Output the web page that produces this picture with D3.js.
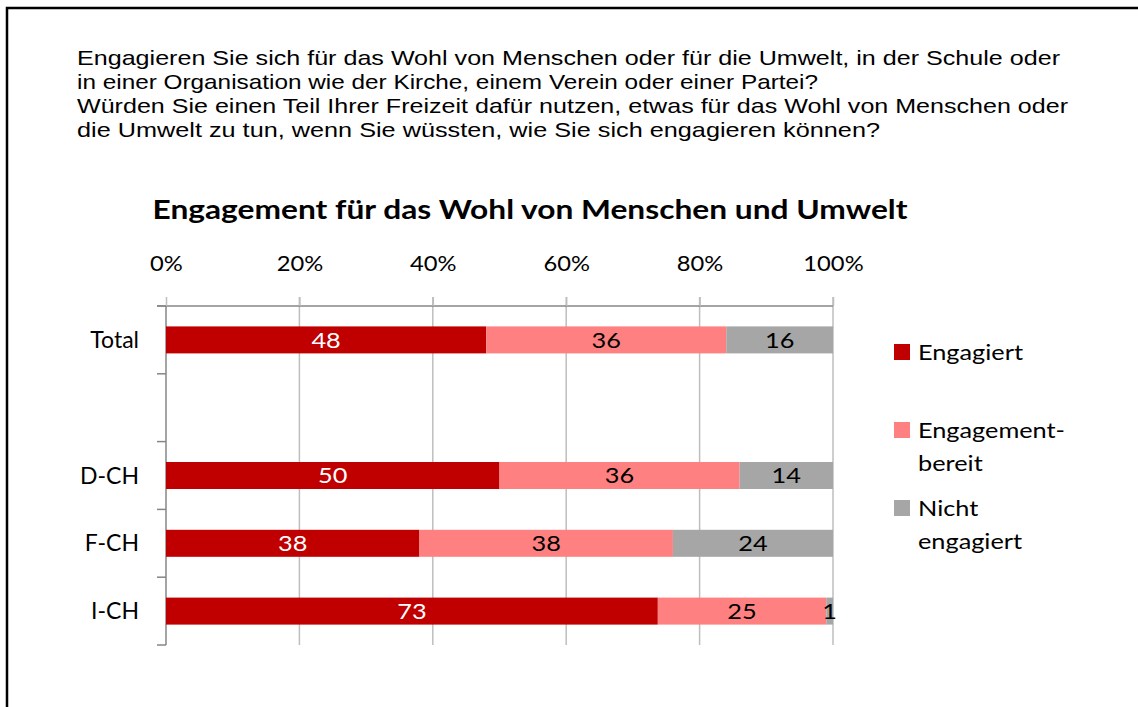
<!DOCTYPE html>
<html>
<head>
<meta charset="utf-8">
<script src="https://cdn.jsdelivr.net/npm/d3@7"></script>
<style>
  body { margin: 0; background: #fff; }
  svg { display: block; }
  .q { font-family: "Liberation Sans", Arial, sans-serif; font-size: 21px; fill: #000; }
  .c { font-family: Lato, "Open Sans", sans-serif; }
</style>
</head>
<body>
<svg id="chart" width="1138" height="707"></svg>
<script>
// question text above the chart
var questionLines = [
  "Engagieren Sie sich für das Wohl von Menschen oder für die Umwelt, in der Schule oder",
  "in einer Organisation wie der Kirche, einem Verein oder einer Partei?",
  "Würden Sie einen Teil Ihrer Freizeit dafür nutzen, etwas für das Wohl von Menschen oder",
  "die Umwelt zu tun, wenn Sie wüssten, wie Sie sich engagieren können?"
];
var questionWidths = [983, 741, 991, 803];
var chartTitle = "Engagement für das Wohl von Menschen und Umwelt";

// "" is the empty slot between Total and the regions
var categories = ["Total", "", "D-CH", "F-CH", "I-CH"];
var seriesNames = ["Engagiert", "Engagement-bereit", "Nicht engagiert"];
var engagiert = [48, null, 50, 38, 73];
var bereit    = [36, null, 36, 38, 25];
var nicht     = [16, null, 14, 24, 1];
var xTicks = [0, 0.2, 0.4, 0.6, 0.8, 1];

var colors = ["#C00000", "#FF8080", "#A6A6A6"];
var labelColors = ["#fff", "#000", "#000"];

var svg = d3.select("#chart");
var margin = {left: 166, top: 306, right: 305, bottom: 62};
var width = 1138, height = 707;

// the reference text is a bit wider than Lato, stretch it
function stretch(sel, f) {
  sel.each(function() {
    var w = this.getComputedTextLength();
    d3.select(this).attr("textLength", w * f).attr("lengthAdjust", "spacingAndGlyphs");
  });
}

// frame
svg.append("path")
    .attr("d", "M7,707 L7,8 L1138,8")
    .attr("fill", "none")
    .attr("stroke", "#000")
    .attr("stroke-width", 2.5);

svg.selectAll(".q").data(questionLines).enter().append("text")
    .attr("class", "q")
    .attr("x", 77)
    .attr("y", function(d, i) { return 65 + i * 24; })
    .attr("textLength", function(d, i) { return questionWidths[i]; })
    .attr("lengthAdjust", "spacingAndGlyphs")
    .text(function(d) { return d; });

svg.append("text")
    .attr("class", "c")
    .attr("x", 530)
    .attr("y", 219)
    .attr("text-anchor", "middle")
    .attr("font-size", 26)
    .attr("font-weight", "bold")
    .attr("textLength", 755)
    .attr("lengthAdjust", "spacingAndGlyphs")
    .text(chartTitle);

var x = d3.scaleLinear().domain([0, 1]).range([margin.left, width - margin.right]);
var y = d3.scaleBand().domain(d3.range(categories.length))
    .range([margin.top, height - margin.bottom]);

// gridlines
svg.selectAll(".grid").data(xTicks.slice(1)).enter().append("line")
    .attr("x1", function(d) { return x(d); })
    .attr("x2", function(d) { return x(d); })
    .attr("y1", margin.top - 9)
    .attr("y2", height - margin.bottom)
    .attr("stroke", "#BEBEBE")
    .attr("stroke-width", 1.5);

// top axis
var xAxis = svg.append("g")
    .attr("transform", "translate(0," + margin.top + ")")
    .call(d3.axisTop(x).tickValues(xTicks).tickFormat(d3.format(".0%")).tickSize(9).tickPadding(26));
xAxis.select(".domain").attr("stroke", "#868686").attr("stroke-width", 1.5)
    .attr("d", "M" + (margin.left - 9) + ",0H" + x(1));
xAxis.selectAll(".tick line").attr("stroke", "#BEBEBE").attr("stroke-width", 1.5);
xAxis.selectAll("text").attr("class", "c").attr("font-size", 21).attr("fill", "#000");
stretch(xAxis.selectAll("text"), 1.13);

// left axis
var yAxis = svg.append("g")
    .attr("transform", "translate(" + margin.left + ",0)");
yAxis.append("line")
    .attr("x1", 0).attr("x2", 0)
    .attr("y1", margin.top).attr("y2", height - margin.bottom)
    .attr("stroke", "#868686").attr("stroke-width", 1.5);
var yEdges = d3.range(categories.length + 1).map(function(i) {
  return i < categories.length ? y(i) : y(i - 1) + y.bandwidth();
});
yAxis.selectAll(".yt").data(yEdges).enter().append("line")
    .attr("x1", -9).attr("x2", 0)
    .attr("y1", function(d) { return d; }).attr("y2", function(d) { return d; })
    .attr("stroke", "#868686").attr("stroke-width", 1.5);
yAxis.selectAll(".yl").data(categories).enter().append("text")
    .attr("class", "c")
    .attr("x", -27)
    .attr("y", function(d, i) { return y(i) + y.bandwidth() / 2; })
    .attr("dy", "0.35em")
    .attr("text-anchor", "end")
    .attr("font-size", 23)
    .text(function(d) { return d; });

// stacked bars, normalised to 100%
var series = [engagiert, bereit, nicht];
var barH = 27;
categories.forEach(function(cat, i) {
  if (engagiert[i] == null) return;
  var total = engagiert[i] + bereit[i] + nicht[i];
  var acc = 0;
  series.forEach(function(s, k) {
    var v = s[i];
    var x0 = x(acc / total), x1 = x((acc + v) / total);
    acc += v;
    var cy = y(i) + y.bandwidth() / 2;
    svg.append("rect")
        .attr("x", x0).attr("y", cy - barH / 2)
        .attr("width", x1 - x0).attr("height", barH)
        .attr("fill", colors[k]);
    var t = svg.append("text")
        .attr("class", "c")
        .attr("x", (x0 + x1) / 2)
        .attr("y", cy)
        .attr("dy", "0.36em")
        .attr("text-anchor", "middle")
        .attr("font-size", 22)
        .attr("fill", labelColors[k])
        .text(v);
    stretch(t, 1.15);
  });
});

// legend
var legendItems = [
  {lines: ["Engagiert"], y: 352},
  {lines: ["Engagement-", "bereit"], y: 430},
  {lines: ["Nicht", "engagiert"], y: 508}
];
legendItems.forEach(function(it, k) {
  svg.append("rect")
      .attr("x", 894).attr("y", it.y - 8)
      .attr("width", 16).attr("height", 16)
      .attr("fill", colors[k]);
  it.lines.forEach(function(t, j) {
    var lt = svg.append("text")
        .attr("class", "c")
        .attr("x", 918)
        .attr("y", it.y + j * 33)
        .attr("dy", "0.35em")
        .attr("font-size", 22)
        .text(t);
    stretch(lt, 1.15);
  });
});
</script>
</body>
</html>
